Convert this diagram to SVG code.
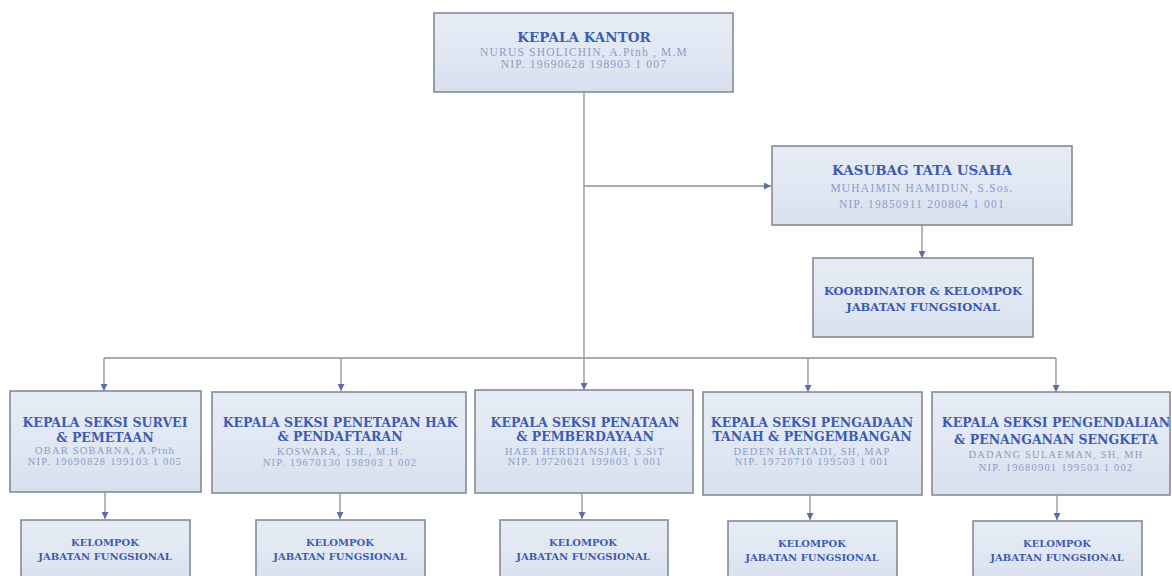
<svg xmlns="http://www.w3.org/2000/svg" width="1172" height="576" viewBox="0 0 1172 576">
<defs>
<linearGradient id="g" x1="0" y1="0" x2="0" y2="1">
<stop offset="0" stop-color="#e6ecf5"/>
<stop offset="0.5" stop-color="#e1e8f3"/>
<stop offset="1" stop-color="#d8e0ee"/>
</linearGradient>
<marker id="ah" viewBox="0 0 10 10" refX="10" refY="5" markerWidth="7" markerHeight="7" orient="auto" markerUnits="userSpaceOnUse">
<path d="M0,0 L10,5 L0,10 z" fill="#5a6ea8"/>
</marker>
</defs>
<style>
.box{fill:url(#g);stroke:#858b96;stroke-width:1.6}
.t{font-family:"DejaVu Serif","Liberation Serif",serif;font-weight:bold;fill:#3d5cb0;text-anchor:middle}
.s{font-family:"Liberation Serif","DejaVu Serif",serif;fill:#8d9cc6;text-anchor:middle}
.s1{font-size:11.5px;letter-spacing:1.2px}
.s2{font-size:10.5px;letter-spacing:1.2px}
.ln{stroke:#8e8f99;stroke-width:1.3;fill:none}
.ar{marker-end:url(#ah)}
</style>
<rect width="1172" height="576" fill="#ffffff"/>
<g id="connectors">
<path class="ln ar" d="M584,92 V390"/>
<path class="ln ar" d="M584,186 H771"/>
<path class="ln ar" d="M922,225 V258"/>
<path class="ln" d="M104,358 H1056"/>
<path class="ln ar" d="M104,358 V391"/>
<path class="ln ar" d="M341,358 V391"/>
<path class="ln ar" d="M808,358 V392"/>
<path class="ln ar" d="M1056,358 V392"/>
<path class="ln ar" d="M105,492 V519"/>
<path class="ln ar" d="M340,493 V519"/>
<path class="ln ar" d="M582,493 V519"/>
<path class="ln ar" d="M810,495 V520"/>
<path class="ln ar" d="M1057,495 V520"/>
</g>
<g id="kepala-kantor">
<rect class="box" x="434" y="13" width="299" height="79"/>
<text class="t" x="584" y="42" font-size="13.5">KEPALA KANTOR</text>
<text class="s s1" x="584" y="56">NURUS SHOLICHIN, A.Ptnh , M.M</text>
<text class="s s1" x="584" y="68">NIP. 19690628 198903 1 007</text>
</g>
<g id="kasubag">
<rect class="box" x="772" y="146" width="300" height="79"/>
<text class="t" x="922" y="175" font-size="13.5">KASUBAG TATA USAHA</text>
<text class="s s1" x="922" y="192">MUHAIMIN HAMIDUN, S.Sos.</text>
<text class="s s1" x="922" y="208">NIP. 19850911 200804 1 001</text>
</g>
<g id="koordinator">
<rect class="box" x="813" y="258" width="220" height="79"/>
<text class="t" x="923" y="295" font-size="11.5">KOORDINATOR &amp; KELOMPOK</text>
<text class="t" x="923" y="311" font-size="11.5">JABATAN FUNGSIONAL</text>
</g>
<g id="seksi-survei">
<rect class="box" x="10" y="391" width="191" height="101"/>
<text class="t" x="105" y="427" font-size="12.5">KEPALA SEKSI SURVEI</text>
<text class="t" x="105" y="442" font-size="12.5">&amp; PEMETAAN</text>
<text class="s s2" x="105" y="454">OBAR SOBARNA, A.Ptnh</text>
<text class="s s2" x="105" y="465">NIP. 19690828 199103 1 005</text>
</g>
<g id="seksi-penetapan">
<rect class="box" x="212" y="392" width="254" height="101"/>
<text class="t" x="340" y="427" font-size="12.5">KEPALA SEKSI PENETAPAN HAK</text>
<text class="t" x="340" y="441" font-size="12.5">&amp; PENDAFTARAN</text>
<text class="s s2" x="340" y="455">KOSWARA, S.H., M.H.</text>
<text class="s s2" x="340" y="466">NIP. 19670130 198903 1 002</text>
</g>
<g id="seksi-penataan">
<rect class="box" x="475" y="390" width="218" height="103"/>
<text class="t" x="585" y="427" font-size="12.5">KEPALA SEKSI PENATAAN</text>
<text class="t" x="585" y="441" font-size="12.5">&amp; PEMBERDAYAAN</text>
<text class="s s2" x="585" y="455">HAER HERDIANSJAH, S.SiT</text>
<text class="s s2" x="585" y="465">NIP. 19720621 199603 1 001</text>
</g>
<g id="seksi-pengadaan">
<rect class="box" x="703" y="392" width="219" height="103"/>
<text class="t" x="812" y="427" font-size="12.5">KEPALA SEKSI PENGADAAN</text>
<text class="t" x="812" y="441" font-size="12.5">TANAH &amp; PENGEMBANGAN</text>
<text class="s s2" x="812" y="455">DEDEN HARTADI, SH, MAP</text>
<text class="s s2" x="812" y="465">NIP. 19720710 199503 1 001</text>
</g>
<g id="seksi-pengendalian">
<rect class="box" x="932" y="392" width="238" height="103"/>
<text class="t" x="1056" y="427" font-size="12.5">KEPALA SEKSI PENGENDALIAN</text>
<text class="t" x="1056" y="444" font-size="12.5">&amp; PENANGANAN SENGKETA</text>
<text class="s s2" x="1056" y="458">DADANG SULAEMAN, SH, MH</text>
<text class="s s2" x="1056" y="471">NIP. 19680901 199503 1 002</text>
</g>
<g id="kelompok-1">
<rect class="box" x="21" y="520" width="169" height="62"/>
<text class="t" x="105" y="546" font-size="10">KELOMPOK</text>
<text class="t" x="105" y="560" font-size="10">JABATAN FUNGSIONAL</text>
</g>
<g id="kelompok-2">
<rect class="box" x="256" y="520" width="169" height="62"/>
<text class="t" x="340" y="546" font-size="10">KELOMPOK</text>
<text class="t" x="340" y="560" font-size="10">JABATAN FUNGSIONAL</text>
</g>
<g id="kelompok-3">
<rect class="box" x="500" y="520" width="168" height="62"/>
<text class="t" x="583" y="546" font-size="10">KELOMPOK</text>
<text class="t" x="583" y="560" font-size="10">JABATAN FUNGSIONAL</text>
</g>
<g id="kelompok-4">
<rect class="box" x="728" y="521" width="169" height="62"/>
<text class="t" x="812" y="547" font-size="10">KELOMPOK</text>
<text class="t" x="812" y="561" font-size="10">JABATAN FUNGSIONAL</text>
</g>
<g id="kelompok-5">
<rect class="box" x="973" y="521" width="169" height="62"/>
<text class="t" x="1057" y="547" font-size="10">KELOMPOK</text>
<text class="t" x="1057" y="561" font-size="10">JABATAN FUNGSIONAL</text>
</g>
</svg>
